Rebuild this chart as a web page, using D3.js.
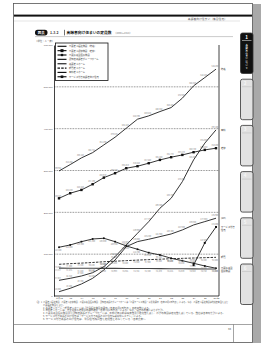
<!DOCTYPE html>
<html>
<head>
<meta charset="utf-8">
<script src="https://cdn.jsdelivr.net/npm/d3@7"></script>
<style>
body{margin:0;background:#fff;}
svg{display:block;font-family:"Noto Sans CJK JP","Noto Sans",sans-serif;}
</style>
</head>
<body>
<div id="chart-area"></div>
<script>
// data
var years = ["平成12","13","14","15","16","17","18","19","20","21","22","23","24","25","26(年)"];
var tokuyo = [298912,314192,330128,342751,361190,379585,401148,422690,430560,440850,450420,472905,502320,522180,542280];
var roken = [233536,245680,253550,267190,282970,293480,305460,310250,317420,325310,331770,337270,343730,349230,353280];
var ryoyo = [116500,122000,129900,136300,138000,129900,119600,111700,103600,98100,90200,84400,78200,71800,66300];
var gh = [10300,18400,28700,42300,62200,86100,118000,130000,135600,141900,148300,157900,169800,177800,185900];
var yogo = [66667,66475,66410,66204,66130,65998,65855,65741,65600,65470,65215,65038,64840,64710,64560];
var keihi = [75800,77300,78600,80100,81900,83200,84500,85800,86900,88000,89100,90000,90800,91600,92400];
var yuryo = [37467,42310,47820,55710,70130,94020,122040,149980,177730,209800,233700,273400,325300,365300,397100];
var sakoju = [null,null,null,null,null,null,null,null,null,null,null,null,74000,127000,165000];
var yTicks = [0,100000,200000,300000,400000,500000,600000];

var legendNames = ["介護老人福祉施設（特養）","介護老人保健施設（老健）","介護療養型医療施設","認知症高齢者グループホーム","養護老人ホーム","軽費老人ホーム","有料老人ホーム","サービス付き高齢者向け住宅"];
var endNames = [["特養"],["老健"],["介護療養型","医療施設"],["(GH)"],[],["軽費"],["有料"],["サービス付き","住宅"]];
var notes = [
	"（注）1. 介護老人福祉施設、介護老人保健施設、介護療養型医療施設、認知症高齢者グループホームは「介護サービス施設・事業所調査（各年10月1日時点）」による。なお、介護老人福祉施設は地域密着型を含む",
	"介護福祉施設を含む。",
	"2. 養護老人ホーム・軽費老人ホームは「社会福祉施設等調査（各年10月1日時点）」の定員数による。",
	"3. 有料老人ホームは、厚生労働省老健局の調査結果（各年7月1日時点）による。なお、届出の有無によらず集計。",
	"4. 介護療養型医療施設及び認知症高齢者グループホームは、平成17年以前は病床数及び定員数を表し、ほかの施設は定員数を表している。数値は各年の集計による。",
	"5. サービス付き高齢者向け住宅は「サービス付き高齢者向け住宅情報提供システム」による。",
	"6. サービス付き高齢者向け住宅は、登録住宅の戸数を定員数とみなしている（各年度末）。"
];
var noteWidths = [193, 22, 108, 122, 182, 100, 104];

var series = [
	{values: tokuyo, marker: 0, dash: null, color: "#111", w: 0.85},
	{values: roken, marker: 2.4, dash: null, color: "#111", w: 0.85},
	{values: ryoyo, marker: 1.7, dash: null, color: "#111", w: 0.85},
	{values: gh, marker: 0, dash: null, color: "#111", w: 0.85},
	{values: yogo, marker: 0, dash: null, color: "#444", w: 1.1},
	{values: keihi, marker: 0, dash: "2.5,1.2", color: "#111", w: 0.85},
	{values: yuryo, marker: 0, dash: null, color: "#111", w: 0.85},
	{values: sakoju, marker: 2, dash: null, color: "#111", w: 0.85}
];

var W = 261, H = 343;
var svg = d3.select("#chart-area").append("svg")
	.attr("width", W).attr("height", H);

// page and its shadow
svg.append("rect").attr("x", 252).attr("y", 4).attr("width", 9).attr("height", 339).attr("fill", "#a9a9a9");
svg.append("rect").attr("x", 13.5).attr("y", 3.5).attr("width", 239).attr("height", 339)
	.attr("fill", "#fff").attr("stroke", "#555").attr("stroke-width", 0.8);

// header
svg.append("rect").attr("x", 14).attr("y", 14.6).attr("width", 238).attr("height", 2).attr("fill", "#111");
svg.append("text").attr("x", 227).attr("y", 19.6).attr("text-anchor", "end")
	.attr("font-size", "2.8px").attr("fill", "#555").text("高齢者向け住まい（集合住宅）");
svg.append("line").attr("x1", 14).attr("x2", 240).attr("y1", 21).attr("y2", 21)
	.attr("stroke", "#bbb").attr("stroke-width", 0.4);

// side tabs
var tabs = [1,2,3,4,5,6];
tabs.forEach(function(t, i){
	var ty = 33 + i*46.2;
	var g = svg.append("g").attr("transform", "translate(240.5," + ty + ")");
	g.append("rect").attr("width", 12.5).attr("height", 40.5).attr("rx", 2)
		.attr("fill", i == 0 ? "#111" : "#e2e2e2").attr("stroke", "#333").attr("stroke-width", 0.8);
	g.append("line").attr("x1", 1.5).attr("x2", 11).attr("y1", 7.5).attr("y2", 7.5)
		.attr("stroke", i == 0 ? "#fff" : "#bbb").attr("stroke-width", 0.5);
	g.append("text").attr("x", i == 0 ? 6.2 : 4.5).attr("y", 5.8).attr("text-anchor", "middle")
		.attr("font-size", "4.6px").attr("font-weight", "bold")
		.attr("fill", i == 0 ? "#fff" : "#f6f6f6").text(t);
	if (i == 0) {
		g.append("text").attr("x", 6.2).attr("y", 10.5)
			.attr("font-size", "2.3px").attr("fill", "#fff")
			.style("writing-mode", "vertical-rl")
			.text("高齢者の住まいについて");
	}
});

// title
svg.append("rect").attr("x", 35).attr("y", 29.8).attr("width", 12.5).attr("height", 5.6).attr("rx", 2.6).attr("fill", "#111");
svg.append("text").attr("x", 41.2).attr("y", 34).attr("text-anchor", "middle")
	.attr("font-size", "3.4px").attr("font-weight", "bold").attr("fill", "#fff").text("図表");
svg.append("text").attr("x", 50).attr("y", 34).attr("font-size", "3.4px").attr("font-weight", "bold")
	.attr("fill", "#333").text("1-3-2");
svg.append("line").attr("x1", 64.5).attr("x2", 64.5).attr("y1", 29.8).attr("y2", 35.4).attr("stroke", "#111").attr("stroke-width", 0.6);
svg.append("text").attr("x", 66.5).attr("y", 34.1).attr("font-size", "3.8px").attr("font-weight", "bold")
	.attr("fill", "#111").attr("textLength", 45).attr("lengthAdjust", "spacingAndGlyphs").text("高齢者向け住まいの定員数");
svg.append("text").attr("x", 114).attr("y", 34).attr("font-size", "2.4px").attr("fill", "#777")
	.text("（2000〜2014）");
svg.append("line").attr("x1", 35).attr("x2", 233).attr("y1", 36.6).attr("y2", 36.6)
	.attr("stroke", "#999").attr("stroke-width", 0.5);

// scales
var x = d3.scalePoint().domain(d3.range(years.length)).range([59, 216]);
var y = d3.scaleLinear().domain([0, 600000]).range([296, 45]);

var chart = svg.append("g");

// unit label
chart.append("text").attr("x", 35).attr("y", 42.2).attr("font-size", "2.4px").attr("fill", "#555").text("（単位：人・床）");

// gridlines
chart.selectAll(".grid").data(yTicks.slice(1, 6)).enter().append("line")
	.attr("x1", 54).attr("x2", 219)
	.attr("y1", function(d){ return y(d); }).attr("y2", function(d){ return y(d); })
	.attr("stroke", "#333").attr("stroke-width", 0.6).attr("stroke-dasharray", "0.8,0.8");

// y axis
var yAxisCall = d3.axisLeft(y).tickValues(yTicks).tickFormat(d3.format(",")).tickSize(0).tickPadding(1.5);
var yAxis = chart.append("g").attr("transform", "translate(54,0)").call(yAxisCall);
yAxis.select(".domain").attr("stroke", "#111").attr("stroke-width", 0.8);
yAxis.selectAll("text").attr("font-size", "2.4px").attr("fill", "#444").attr("font-family", null);

// x axis
var xAxisCall = d3.axisBottom(x).tickFormat(function(i){ return years[i]; }).tickSize(0).tickPadding(1.6);
var xAxis = chart.append("g").attr("transform", "translate(0,296)").call(xAxisCall);
xAxis.select(".domain").remove();
xAxis.selectAll("text").attr("font-size", "2.4px").attr("fill", "#444").attr("font-family", null);
chart.append("line").attr("x1", 54).attr("x2", 219).attr("y1", 296).attr("y2", 296).attr("stroke", "#111").attr("stroke-width", 0.8);
chart.append("line").attr("x1", 219).attr("x2", 219).attr("y1", 45).attr("y2", 296).attr("stroke", "#111").attr("stroke-width", 0.8);

// lines
var line = d3.line()
	.defined(function(d){ return d != null; })
	.x(function(d, i){ return x(i); })
	.y(function(d){ return y(d); });

var fmt = d3.format(",");
series.forEach(function(s, k){
	chart.append("path").datum(s.values)
		.attr("fill", "none").attr("stroke", s.color).attr("stroke-width", s.w)
		.attr("stroke-dasharray", s.dash)
		.attr("d", line);

	var pts = s.values.map(function(v, i){ return {v: v, i: i}; }).filter(function(p){ return p.v != null; });

	// value labels
	chart.selectAll(".lab" + k).data(pts).enter().append("text")
		.attr("x", function(p){ return x(p.i) - 1; })
		.attr("y", function(p){ return y(p.v) + (k == 2 || k == 4 || k == 5 ? 3.3 : -1.8); })
		.attr("text-anchor", "middle")
		.attr("font-size", "1.9px").attr("fill", "#777")
		.text(function(p){ return fmt(p.v); });

	if (s.marker > 0) {
		chart.selectAll(".mk" + k).data(pts).enter().append("rect")
			.attr("x", function(p){ return x(p.i) - s.marker/2; })
			.attr("y", function(p){ return y(p.v) - s.marker/2; })
			.attr("width", s.marker).attr("height", s.marker)
			.attr("fill", "#111");
	}

	// series label on the right
	var last = pts[pts.length - 1];
	endNames[k].forEach(function(n, j){
		chart.append("text").attr("x", 221).attr("y", y(last.v) + 0.8 + j*2.8)
			.attr("font-size", "2.3px").attr("fill", "#333").text(n);
	});
});

// legend
var legend = chart.append("g").attr("transform", "translate(55.5,43)");
legend.append("rect").attr("width", 52.5).attr("height", 37.5)
	.attr("fill", "#fff").attr("stroke", "#111").attr("stroke-width", 0.8);
legendNames.forEach(function(n, i){
	var s = series[i];
	var row = legend.append("g").attr("transform", "translate(0," + (3.3 + i*4.35) + ")");
	row.append("line").attr("x1", 2).attr("x2", 11).attr("y1", 0).attr("y2", 0)
		.attr("stroke", s.color).attr("stroke-width", s.w + 0.3).attr("stroke-dasharray", s.dash);
	if (s.marker > 0) {
		row.append("rect").attr("x", 6.5 - s.marker/2 - 0.3).attr("y", -s.marker/2 - 0.3)
			.attr("width", s.marker + 0.6).attr("height", s.marker + 0.6).attr("fill", "#111");
	}
	row.append("text").attr("x", 13.5).attr("y", 0.9).attr("font-size", "2.3px").attr("fill", "#444").text(n);
});

// notes
notes.forEach(function(n, i){
	svg.append("text").attr("x", i == 0 ? 35 : 43).attr("y", 302.6 + i*2.95)
		.attr("font-size", "2.1px").attr("fill", "#555")
		.attr("textLength", noteWidths[i]).attr("lengthAdjust", "spacingAndGlyphs")
		.text(n);
});

// footer
svg.append("line").attr("x1", 14).attr("x2", 252).attr("y1", 324.5).attr("y2", 324.5).attr("stroke", "#666").attr("stroke-width", 0.6);
svg.append("line").attr("x1", 233.5).attr("x2", 233.5).attr("y1", 324.5).attr("y2", 342).attr("stroke", "#666").attr("stroke-width", 0.6);
svg.append("text").attr("x", 231).attr("y", 330).attr("text-anchor", "end")
	.attr("font-size", "2.8px").attr("fill", "#444").text("33");
</script>
</body>
</html>
